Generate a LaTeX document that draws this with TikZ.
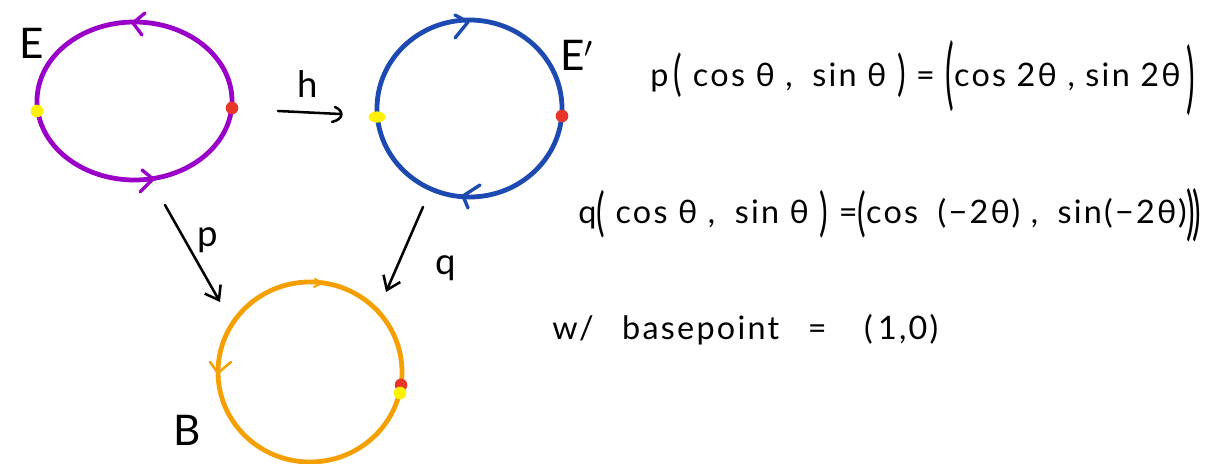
\documentclass[tikz,border=0pt]{standalone}
\usepackage{fontspec}
\setmainfont{Lato}
\usetikzlibrary{arrows.meta,shapes.geometric}
\definecolor{purp}{HTML}{9A00C8}
\definecolor{bluec}{HTML}{1C4AB0}
\definecolor{orng}{HTML}{F5A000}
\definecolor{redd}{HTML}{E8352A}
\definecolor{yell}{HTML}{FFF200}
\newcommand{\tallp}[2]{\raisebox{#2}{\scalebox{1}[#1]{(}}}
\newcommand{\tallq}[2]{\raisebox{#2}{\scalebox{1}[#1]{)}}}
\tikzset{
  x=0.025cm, y=-0.025cm,
  loop/.style={line width=3.4pt, line cap=round, line join=round},
  chev/.style={line width=2.4pt, line cap=round, line join=round},
  mapar/.style={line width=1.8pt, line cap=round, -{Straight Barb[length=9pt,width=13pt,line width=1.8pt]}},
  lbl/.style={font=\fontsize{30}{32}\selectfont, inner sep=0pt},
  eqn/.style={font=\fontsize{23}{26}\selectfont\addfontfeature{LetterSpace=7}, anchor=west, inner sep=0pt},
  dot/.style={circle, inner sep=0pt, minimum size=9pt}
}
\begin{document}
\begin{tikzpicture}
\useasboundingbox (0,0) rectangle (1224,464);
% circle E
\draw[loop, purp] (134.5,101) ellipse [x radius=97.5, y radius=79];
\draw[chev, purp] (145,13) -- (133,23) -- (142,35);
\draw[chev, purp] (142,170) -- (153,179) -- (140,192);
\node[dot, fill=yell] (ey) at (37,111) {};
\node[dot, fill=redd] (er) at (232,108) {};
\node[lbl] (E) at (32,43) {E};
% circle E'
\draw[loop, bluec] (469.5,108.5) ellipse [x radius=92.5, y radius=88.5];
\draw[chev, bluec] (455,15) -- (468,22) -- (455,38);
\draw[chev, bluec] (480,185) -- (463,196) -- (468,208);
\node[ellipse, fill=yell, inner sep=0pt, minimum width=12pt, minimum height=8pt] (e2y) at (377,117) {};
\node[dot, fill=redd] (e2r) at (562,116) {};
\node[lbl] (E2) at (577,55) {E$'$};
% circle B
\draw[loop, orng] (310,372) ellipse [x radius=92, y radius=90];
\draw[chev, orng, line width=1.4pt] (315,279) -- (322,283) -- (314,287);
\draw[chev, orng, line width=1.8pt] (210,362) -- (218,373) -- (231,362);
\node[dot, fill=redd] (br) at (401,385) {};
\node[dot, fill=yell] (by) at (400,393) {};
\node[lbl] (B) at (187,430) {B};
% maps
\coordinate (hs) at (278,111);
\coordinate (he) at (340,114);
\draw[line width=1.8pt, line cap=round] (hs) -- (he);
\draw[line width=1.8pt, line cap=round] (335,107) .. controls (344,111) and (344,119) .. (332,122);
\node[lbl, font=\fontsize{26}{28}\selectfont] (h) at (308,84) {h};
\coordinate (ps) at (165,205);
\coordinate (pe) at (220,302);
\draw[mapar] (ps) -- (pe);
\node[lbl, font=\fontsize{26}{28}\selectfont] (p) at (208,240) {p};
\coordinate (qs) at (423,207);
\coordinate (qe) at (386,292);
\draw[mapar] (qs) -- (qe);
\node[lbl, font=\fontsize{26}{28}\selectfont] (q) at (446,268) {q};
% equations
\node[eqn] (eq1) at (650,78) {p\,\tallp{1.5}{-0.3ex} cos θ ,\; sin θ \tallq{1.5}{-0.3ex} = \tallp{2.4}{-0.9ex}cos 2θ , sin 2θ\,\tallq{2.4}{-1.1ex}};
\node[eqn] (eq2) at (578,215) {q\tallp{1.6}{-0.4ex} cos θ ,\; sin θ \tallq{1.6}{-0.4ex} =\tallp{1.6}{-0.4ex}cos\; (−2θ) ,\; sin(−2θ)\tallq{1.8}{-0.6ex}\kern-2pt\tallq{1.8}{-0.6ex}};
\node[eqn] (eq3) at (552,330) {w/\;\; basepoint \;\;=\;\;\; (\,1,0)};
\end{tikzpicture}
\end{document}
